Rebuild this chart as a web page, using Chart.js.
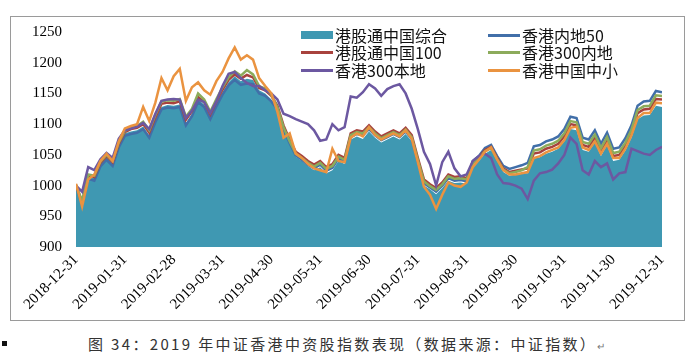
<!DOCTYPE html>
<html>
<head>
<meta charset="utf-8">
<script src="https://cdn.jsdelivr.net/npm/chart.js@4.4.0/dist/chart.umd.min.js"></script>
<style>
  body { margin: 0; background: #fff; width: 692px; height: 363px; overflow: hidden; position: relative; font-family: "Noto Sans CJK SC", sans-serif; }
  #frame { position: absolute; left: 10px; top: 16px; width: 675px; height: 305px; border: 1px solid #9a9a9a; box-sizing: border-box; }
  #wrap { position: absolute; left: 0; top: 0; width: 692px; height: 330px; }
  .lg { position: absolute; height: 18px; display: flex; align-items: center; font-size: 16px; color: #111; white-space: nowrap; }
  .lg .sw { width: 32px; margin-right: 2px; }
  #bullet { position: absolute; left: 2px; top: 341px; width: 5px; height: 5px; background: #111; }
  #caption { position: absolute; left: 88px; top: 333px; font-size: 15px; letter-spacing: 2.35px; color: #333; white-space: nowrap; }
  #caption span { font-size: 10px; color: #777; }
</style>
</head>
<body>
<div id="frame"></div>
<div id="wrap"><canvas id="chart" width="692" height="330"></canvas></div>
<div id="legend"></div>
<div id="bullet"></div>
<div id="caption">图 34：2019 年中证香港中资股指数表现（数据来源：中证指数）<span>↵</span></div>
<script>
// 横轴：月末日期
const monthLabels = ['2018-12-31', '2019-01-31', '2019-02-28', '2019-03-31', '2019-04-30', '2019-05-31',
  '2019-06-30', '2019-07-31', '2019-08-31', '2019-09-30', '2019-10-31', '2019-11-30', '2019-12-31'];
const yTicks = [900, 950, 1000, 1050, 1100, 1150, 1200, 1250];
const POINTS_PER_MONTH = 8;

const seriesNames = ['港股通中国综合', '香港内地50', '港股通中国100', '香港300内地', '香港300本地', '香港中国中小'];
const seriesColors = ['#3f98b2', '#416fa9', '#a8423d', '#8cab5b', '#6c58a1', '#ea9340'];

// 港股通中国综合 (面积)
const hkConnectComposite = [
  1000, 972, 1015, 1012, 1035, 1046, 1036, 1066, 1085, 1088, 1090, 1096, 1082, 1107, 1128, 1131,
  1130, 1132, 1102, 1117, 1140, 1132, 1112, 1133, 1152, 1168, 1178, 1170, 1174, 1172, 1155, 1150,
  1140, 1120, 1090, 1068, 1047, 1040, 1032, 1025, 1030, 1020, 1025, 1040, 1035, 1075, 1080, 1076,
  1088, 1078, 1070, 1075, 1080, 1075, 1084, 1072, 1035, 1000, 994, 986, 996, 1008, 1004, 1005,
  1003, 1032, 1040, 1052, 1058, 1040, 1022, 1016, 1018, 1020, 1020, 1044, 1046, 1052, 1055, 1060,
  1072, 1092, 1090, 1058, 1055, 1070, 1048, 1066, 1040, 1042, 1057, 1078, 1108, 1114, 1115, 1130,
  1128
];
// 香港内地50
const hkMainland50 = [
  1000, 968, 1011, 1008, 1031, 1042, 1032, 1062, 1081, 1084, 1086, 1092, 1078, 1103, 1124, 1127,
  1126, 1128, 1098, 1113, 1136, 1128, 1108, 1129, 1148, 1163, 1172, 1164, 1166, 1165, 1150, 1146,
  1137, 1124, 1092, 1069, 1049, 1042, 1034, 1028, 1034, 1024, 1029, 1044, 1039, 1079, 1084, 1082,
  1092, 1082, 1074, 1079, 1084, 1079, 1088, 1076, 1039, 1004, 997, 990, 1000, 1012, 1008, 1009,
  1007, 1040, 1048, 1061, 1066, 1048, 1032, 1027, 1030, 1033, 1037, 1064, 1066, 1072, 1075, 1080,
  1092, 1112, 1110, 1078, 1075, 1090, 1068, 1086, 1060, 1062, 1077, 1098, 1130, 1137, 1138, 1154,
  1152
];
// 港股通中国100
const hkConnect100 = [
  1001, 973, 1016, 1014, 1037, 1048, 1038, 1068, 1087, 1092, 1094, 1100, 1086, 1111, 1133, 1135,
  1134, 1137, 1107, 1121, 1144, 1136, 1116, 1137, 1156, 1172, 1181, 1174, 1180, 1176, 1159, 1155,
  1146, 1130, 1098, 1075, 1055, 1048, 1040, 1034, 1040, 1030, 1035, 1050, 1045, 1085, 1090, 1088,
  1098, 1088, 1080, 1085, 1090, 1085, 1094, 1082, 1045, 1010, 1002, 996, 1005, 1018, 1014, 1015,
  1012, 1038, 1046, 1058, 1063, 1045, 1028, 1022, 1024, 1026, 1028, 1052, 1054, 1060, 1063, 1068,
  1080, 1100, 1098, 1066, 1063, 1078, 1056, 1074, 1048, 1050, 1065, 1086, 1118, 1124, 1125, 1141,
  1140
];
// 香港300内地
const hk300Mainland = [
  1001, 975, 1018, 1016, 1039, 1050, 1040, 1070, 1089, 1095, 1097, 1104, 1090, 1115, 1137, 1139,
  1138, 1141, 1112, 1125, 1150, 1140, 1120, 1141, 1160, 1176, 1186, 1179, 1188, 1181, 1162, 1158,
  1148, 1127, 1095, 1072, 1052, 1045, 1037, 1031, 1037, 1027, 1032, 1047, 1042, 1082, 1087, 1085,
  1095, 1085, 1077, 1082, 1087, 1082, 1091, 1079, 1042, 1007, 999, 993, 1002, 1015, 1011, 1012,
  1010, 1036, 1044, 1056, 1061, 1043, 1026, 1020, 1022, 1025, 1030, 1057, 1059, 1065, 1068, 1073,
  1085, 1105, 1103, 1071, 1068, 1083, 1061, 1079, 1053, 1055, 1070, 1091, 1123, 1129, 1130, 1147,
  1146
];
// 香港300本地
const hk300Local = [
  1000, 990, 1030, 1025, 1043, 1053, 1045, 1076, 1090, 1093, 1096, 1102, 1092, 1117, 1138, 1140,
  1141, 1140, 1110, 1122, 1140, 1136, 1118, 1137, 1162, 1182, 1185, 1175, 1167, 1162, 1162, 1155,
  1150, 1140, 1117, 1113, 1108, 1104, 1100, 1090, 1073, 1075, 1100, 1090, 1095, 1145, 1143, 1152,
  1165, 1158, 1146, 1157, 1162, 1165, 1150, 1125, 1092, 1055, 1035, 1000, 1038, 1055, 1028, 1015,
  1018, 1040, 1048, 1052, 1045, 1018, 1004, 1003, 1000, 995, 978, 1008, 1020, 1022, 1026, 1036,
  1050, 1078, 1068, 1025, 1018, 1040, 1030, 1036, 1010, 1020, 1022, 1060, 1056, 1052, 1050, 1058,
  1063
];
// 香港中国中小
const hkChinaSmallMid = [
  1003, 966, 1010, 1018, 1040, 1052, 1040, 1072, 1093, 1097, 1100, 1128, 1105, 1135, 1175, 1155,
  1178, 1190, 1138, 1160, 1168, 1155, 1148, 1170, 1185, 1207, 1225, 1205, 1212, 1205, 1175, 1162,
  1150, 1120, 1078, 1085, 1052, 1045, 1035, 1028, 1025, 1022, 1060, 1040, 1038, 1078, 1085, 1080,
  1095, 1082, 1075, 1080, 1085, 1080, 1090, 1076, 1038, 998, 985, 962, 985, 1005, 1000, 998,
  1005, 1030, 1042, 1055, 1062, 1042, 1025, 1018, 1018, 1020, 1022, 1045, 1048, 1054, 1058, 1062,
  1074, 1094, 1096, 1062, 1058, 1072, 1052, 1068, 1045, 1045, 1060, 1082, 1110, 1118, 1118, 1135,
  1134
];

const allSeries = [hkConnectComposite, hkMainland50, hkConnect100, hk300Mainland, hk300Local, hkChinaSmallMid];

function toPoints(values) {
  return values.map((v, i) => ({ x: i / POINTS_PER_MONTH, y: v }));
}

// 图例（两列三行，放在图内右上）
const legendSlots = [
  { left: 301, top: 26 }, { left: 488, top: 26 },
  { left: 301, top: 43 }, { left: 488, top: 43 },
  { left: 301, top: 61 }, { left: 488, top: 61 }
];
const legendEl = document.getElementById('legend');
seriesNames.forEach((name, idx) => {
  const item = document.createElement('div');
  item.className = 'lg';
  item.style.left = legendSlots[idx].left + 'px';
  item.style.top = legendSlots[idx].top + 'px';
  const sw = document.createElement('div');
  sw.className = 'sw';
  sw.style.background = seriesColors[idx];
  sw.style.height = idx === 0 ? '8px' : '3px';
  item.appendChild(sw);
  item.appendChild(document.createTextNode(name));
  legendEl.appendChild(item);
});

const datasets = allSeries.map((vals, idx) => {
  const isArea = idx === 0;
  return {
    label: seriesNames[idx],
    data: toPoints(vals),
    borderColor: seriesColors[idx],
    backgroundColor: seriesColors[idx],
    borderWidth: isArea ? 0 : 2.5,
    fill: isArea ? 'start' : false,
    pointRadius: 0,
    tension: 0,
    order: isArea ? 10 : 6 - idx
  };
});

const serifFont = "'Liberation Serif', 'Times New Roman', serif";
Chart.defaults.font.family = serifFont;

new Chart(document.getElementById('chart'), {
  type: 'line',
  data: { datasets: datasets },
  options: {
    responsive: false,
    animation: false,
    layout: { padding: { left: 0, right: 30, top: 32, bottom: 0 } },
    plugins: { legend: { display: false }, tooltip: { enabled: false } },
    scales: {
      x: {
        type: 'linear',
        min: 0,
        max: 12,
        grid: { display: false, drawTicks: false },
        border: { display: false },
        afterBuildTicks: s => { s.ticks = monthLabels.map((_, i) => ({ value: i })); },
        afterFit: s => { s.height = 83; },
        ticks: {
          autoSkip: false,
          maxRotation: 45,
          minRotation: 45,
          padding: 4,
          color: '#000',
          font: { family: serifFont, size: 15 },
          callback: v => monthLabels[v]
        }
      },
      y: {
        min: 900,
        max: 1250,
        grid: { display: false, drawTicks: false },
        border: { display: false },
        afterBuildTicks: s => { s.ticks = yTicks.map(v => ({ value: v })); },
        afterFit: s => { s.width = 76; },
        ticks: {
          padding: 14,
          color: '#000',
          font: { family: serifFont, size: 15 },
          callback: v => String(v)
        }
      }
    }
  }
});
</script>
</body>
</html>
